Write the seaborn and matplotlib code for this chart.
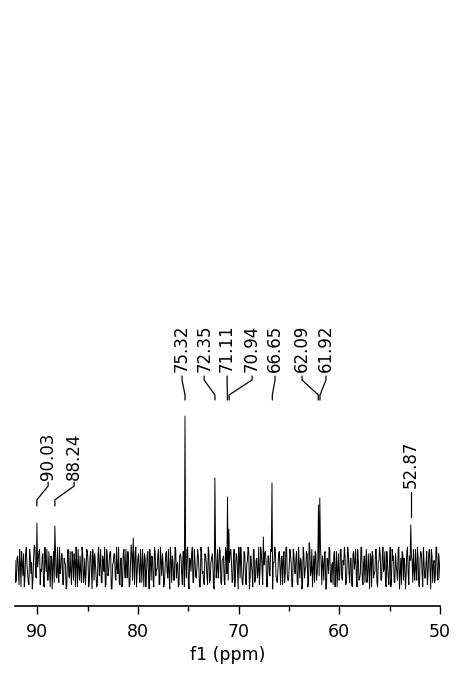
import numpy as np
import pandas as pd
import seaborn as sns
import matplotlib.pyplot as plt

# peak positions (ppm) and heights (noise units)
peak_ppm = [90.03, 88.24, 80.47, 75.32, 72.35, 71.11, 70.94, 67.56, 66.65, 63.0, 62.09, 61.92, 52.87]
peak_height = [2.0, 1.86, 1.32, 6.86, 4.05, 3.18, 1.73, 1.36, 3.82, 1.1, 2.82, 3.14, 1.91]

# baseline noise (tenths of a unit), two interleaved passes
noise_a = [
    3, -6, 5, -8, 2, 7, -4, -9, 6, 1, -7, 8, -3, -10, 4, 9, -5, 0, 7, -8,
    -2, 6, -9, 3, 8, -6, -1, 5, -10, 7, 2, -4, 9, -7, -3, 6, -8, 4, 1, -9,
    8, -5, -2, 7, -6, 3, 9, -9, 0, 5, -7, 6, -4, -8, 8, 2, -6, 7, -10, 4,
    6, -3, -8, 9, 1, -7, 5, -2, -9, 8, -4, 3, 7, -10, 2, 6, -6, -1, 9, -8,
    4, -7, 8, -5, 0, 7, -9, 3, 5, -4, -8, 9, -2, 6, -7, 1, 8, -9, 4, -3,
    7, -10, 2, 5, -6, 9, -4, -1, 8, -8, 3, 6, -9, 0, 7, -5, -3, 9, -7, 2,
    -6, 8, 1, -9, 5, 4, -8, 7, -2, -5, 9, -10, 3, 6, -7, 8, -4, 0, 5, -9,
    9, -3, -7, 6, 2, -8, 7, -6, 4, 1, -10, 8, -1, -5, 9, -7, 3, 5, -8, 6,
    -4, -9, 7, 2, -6, 8, -3, 5, -10, 4, 9, -7, -2, 6, -8, 3, 7, -5, 1, -9,
    8, -6, 4, -2, -8, 9, 0, -7, 6, 3, -9, 5, -4, 7, -10, 2, 8, -6, -1, 7,
    -8, 5, 3, -7, 9, -4, -6, 8, 1, -9, 6, -3, 7, -8, 2, 4, -10, 9, -5, 0,
    6, -7, 8, -2, -9, 5, 7, -6, 3, -4, 9, -8, 1, 6, -10, 4, -3, 8, -7, 2,
    5, -9, 7, -1, -6, 8, -5, 3, 9, -8, 0, 6, -7, 4, -9, 7, 2, -4, 8, -6,
    -3, 9, -8, 5, 1, -7, 6, -10, 4, 7, -5, -2, 8, -9, 3, 6, -6, 9, -1, -8,
    7, -4, 2, -9, 8, 5, -7, 1, -6, 9, -3, -8, 6, 4, -10, 7, -2, 5, -7, 3,
    8, -6, -1, 9, -8, 4, 6, -9, 2, -5, 7, -3, 8, -10, 5, 1, -7, 9, -4, 6,
    -5,
]
noise_b = [
    -7, 4, -2, 8, -9, 1, 6, -5, 9, -3, -8, 5, 2, -6, 10, -4, -7, 3, 8, -1,
    5, -8, 9, -2, -6, 7, -9, 4, 1, -7, 8, -5, -3, 9, -1, 6, -8, 2, -10, 5,
    -4, 7, -8, 3, 6, -9, 1, 8, -6, -2, 9, -7, 4, -3, 7, -9, 5, -1, 8, -6,
    2, -9, 6, -4, 8, -7, 3, 9, -8, 5, -2, 7, -10, 1, 6, -5, 9, -3, -7, 4,
    -9, 6, -1, 8, -5, 3, -8, 10, -6, 2, 7, -9, 4, -2, 8, -7, 1, 6, -9, 5,
    -3, 8, -6, 4, -9, 7, -1, 5, -8, 9, -4, 2, -7, 6, -2, 8, -10, 3, 5, -6,
    9, -5, 2, -8, 6, -3, 7, -9, 1, 8, -6, 4, -2, 9, -7, 3, -5, 8, -1, -9,
    6, -2, -8, 5, -4, 9, -7, 2, 6, -9, 3, -5, 8, -1, 7, -8, 4, -6, 9, -3,
    -6, 2, 8, -7, 4, -9, 6, -1, 9, -5, 3, -8, 7, -4, 1, 9, -10, 5, -2, 8,
    -7, 3, -5, 9, -2, 6, -8, 1, 7, -9, 5, -3, 8, -6, 2, 9, -4, -7, 6, -1,
    4, -8, 7, -3, 9, -6, 1, 5, -9, 8, -2, 4, -7, 9, -5, 3, -8, 6, -1, 7,
    -9, 5, -4, 8, -1, -7, 6, -3, 9, -8, 2, 5, -6, 7, -10, 3, 9, -5, 1, -8,
    7, -2, -9, 6, -4, 8, -6, 1, 5, -7, 9, -3, 4, -8, 6, -1, 8, -9, 3, -5,
    9, -6, 2, -7, 8, -4, -1, 6, -9, 5, -3, 8, -7, 2, 9, -6, 4, -2, 7, -9,
    1, -8, 9, -5, 3, -7, 6, -2, 8, -10, 4, 7, -6, 1, -4, 9, -8, 3, 5, -7,
    -2, 8, -6, 4, -9, 7, -3, 9, -5, 2, -8, 6, -1, 8, -7, 3, -4, 9, -6, 2,
]

# labelled peaks and where their labels sit
label_text = ["90.03", "88.24", "75.32", "72.35", "71.11", "70.94", "66.65", "62.09", "61.92", "52.87"]
label_peak = [90.03, 88.24, 75.32, 72.35, 71.11, 70.94, 66.65, 62.09, 61.92, 52.87]
label_pos = [88.91, 86.33, 75.61, 73.42, 71.14, 68.66, 66.38, 63.70, 61.32, 52.87]
label_group = ["low", "low", "top", "top", "top", "top", "top", "top", "top", "side"]

noise = [v for pair in zip(noise_a, noise_b) for v in pair] + noise_a[len(noise_b):]
ppm = np.linspace(92.2, 50.0, len(noise))
intensity = np.array(noise, dtype=float) / 10
for p, h in zip(peak_ppm, peak_height):
    intensity[np.argmin(np.abs(ppm - p))] = h

df = pd.DataFrame({"ppm": ppm, "intensity": intensity})

sns.set_style("white")
plt.rcParams['font.family'] = ['DejaVu Sans']

fig = plt.figure(figsize=(4.57, 6.83), dpi=100)
ax = fig.add_axes([15/457, 77/683, 425/457, 606/683])
sns.lineplot(data=df, x="ppm", y="intensity", estimator=None, color="black", lw=0.7, ax=ax)

# label geometry: text bottom, connector top, bend 1, bend 2, connector bottom
levels = {"top": (8.86, 8.68, 8.5, 7.82, 7.59),
          "low": (3.95, 3.86, 3.68, 3.05, 2.77),
          "side": (3.59, 3.41, 3.41, 2.27, 2.27)}
for txt, pk, pos, grp in zip(label_text, label_peak, label_pos, label_group):
    tb, c0, c1, c2, c3 = levels[grp]
    ax.plot([pos, pos, pk, pk], [c0, c1, c2, c3], color="black", lw=0.9)
    ax.text(pos, tb, txt, rotation=90, ha="center", va="bottom", fontsize=12, color="black")

ax.set_xlim(92.2, 50)
ax.set_ylim(-1.773, 25.77)
ax.set_xticks([90, 80, 70, 60, 50])
ax.set_xticks([85, 75, 65, 55], minor=True)
ax.set_yticks([])
ax.tick_params(axis="x", which="major", direction="out", length=6, width=1, labelsize=12.5,
               pad=6, bottom=True, colors="black")
ax.tick_params(axis="x", which="minor", direction="out", length=3.5, width=1, bottom=True, colors="black")
for s in ["top", "left", "right"]:
    ax.spines[s].set_visible(False)
ax.spines["bottom"].set_linewidth(1.2)
ax.spines["bottom"].set_color("black")
ax.set_xlabel("f1 (ppm)", fontsize=12.5, labelpad=4, color="black")
ax.set_ylabel("")
ax.patch.set_alpha(0)

fig.savefig("out.png", dpi=100)
